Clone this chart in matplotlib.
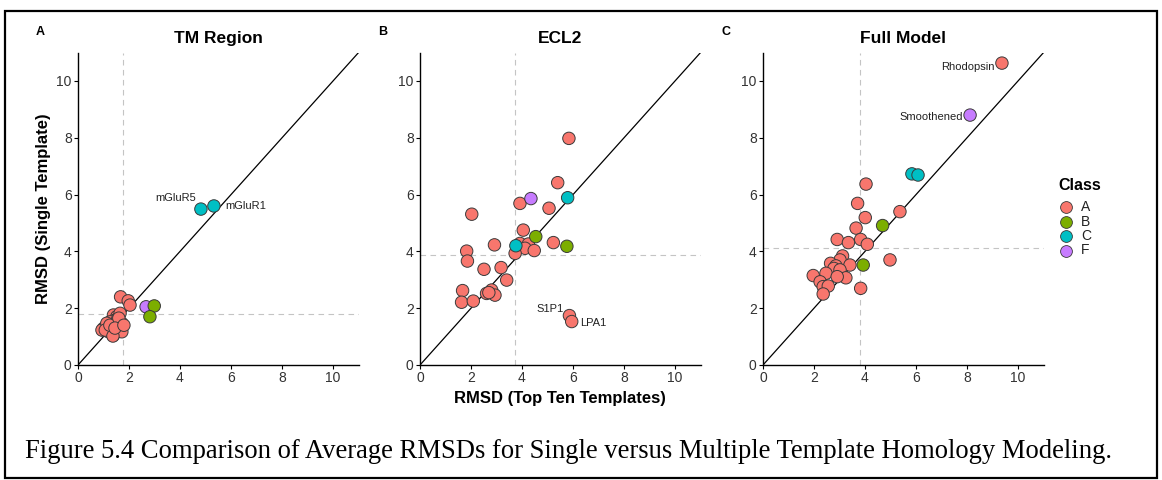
import matplotlib
matplotlib.use("Agg")
import matplotlib.pyplot as plt
from matplotlib.patches import Rectangle
from matplotlib.lines import Line2D

plt.rcParams['font.family'] = ['Liberation Sans', 'DejaVu Sans']

class_colors = {"A": "#F8766D", "B": "#7CAE00", "C": "#00BFC4", "F": "#C77CFF"}
class_order = ["A", "B", "C", "F"]

# Panel A: TM region
tm_x = [1.39, 1.52, 1.45, 1.26, 1.13, 1.00, 0.94, 1.20, 1.39, 1.58, 1.72, 1.72, 1.52, 1.32,
        1.13, 1.07, 1.65, 1.67, 1.97, 2.04, 1.37, 1.55, 1.25, 1.60, 1.45, 1.80,
        2.67, 2.99, 2.82, 4.82, 5.33]
tm_y = [1.76, 1.70, 1.58, 1.52, 1.35, 1.29, 1.23, 1.17, 1.05, 1.29, 1.47, 1.17, 1.47, 1.35,
        1.47, 1.23, 1.82, 2.40, 2.26, 2.11, 1.02, 1.60, 1.40, 1.65, 1.30, 1.40,
        2.05, 2.08, 1.70, 5.49, 5.60]
tm_cls = ["A"] * 26 + ["F", "B", "B", "C", "C"]
tm_names = {29: "mGluR5", 30: "mGluR1"}
tm_vline, tm_hline = 1.76, 1.80

# Panel B: ECL2
ecl_x = [5.84, 5.40, 3.92, 5.06, 2.03, 4.05, 2.92, 5.23, 3.92, 4.25, 4.12, 4.48, 3.73, 1.83,
         1.86, 2.51, 3.18, 3.40, 1.67, 1.63, 2.09, 2.61, 2.81, 2.94, 2.70, 5.86, 5.95,
         4.35, 5.79, 3.76, 4.54, 5.76]
ecl_y = [7.98, 6.42, 5.69, 5.52, 5.31, 4.75, 4.23, 4.31, 4.28, 4.26, 4.11, 4.03, 3.93, 4.01,
         3.66, 3.37, 3.43, 2.99, 2.62, 2.21, 2.25, 2.52, 2.64, 2.46, 2.55, 1.74, 1.53,
         5.86, 5.89, 4.20, 4.52, 4.18]
ecl_cls = ["A"] * 27 + ["F", "C", "C", "B", "B"]
ecl_names = {25: "S1P1", 26: "LPA1"}
ecl_vline, ecl_hline = 3.73, 3.86

# Panel C: full model
full_x = [4.04, 3.71, 4.01, 3.65, 5.37, 2.91, 3.35, 3.83, 4.09, 3.12, 3.02, 2.65, 2.86, 3.41,
          2.78, 3.02, 2.47, 1.97, 3.25, 2.91, 2.24, 2.36, 2.56, 2.36, 3.83, 4.98, 9.37,
          4.69, 3.93, 5.84, 6.08, 8.12]
full_y = [6.37, 5.69, 5.19, 4.82, 5.40, 4.42, 4.31, 4.42, 4.25, 3.84, 3.70, 3.58, 3.49, 3.52,
          3.40, 3.35, 3.23, 3.15, 3.07, 3.11, 2.93, 2.76, 2.78, 2.50, 2.70, 3.70, 10.63,
          4.91, 3.52, 6.73, 6.69, 8.80]
full_cls = ["A"] * 27 + ["B", "B", "C", "C", "F"]
full_names = {26: "Rhodopsin", 31: "Smoothened"}
full_vline, full_hline = 3.80, 4.13

panel_titles = ["TM Region", "ECL2", "Full Model"]
panel_letters = ["A", "B", "C"]
ticks = [0, 2, 4, 6, 8, 10]

W, H = 1162, 480
fig = plt.figure(figsize=(W / 100, H / 100), dpi=100)

# outer frame around figure and caption
fig.patches.append(Rectangle((5 / W, 1 - 478 / H), 1152 / W, 467 / H, transform=fig.transFigure,
                             fill=False, edgecolor="black", linewidth=1.6))

ax_left_px = [78, 420, 763]
ax_w_px = 280.5
ax_bottom = (H - 365) / H
ax_height = 312.4 / H

panels = [
    (tm_x, tm_y, tm_cls, tm_names, tm_vline, tm_hline,
     {29: ((-3.5, 8), "right"), 30: ((8, 0), "left")}),
    (ecl_x, ecl_y, ecl_cls, ecl_names, ecl_vline, ecl_hline,
     {25: ((-4, 5), "right"), 26: ((6, -1), "left")}),
    (full_x, full_y, full_cls, full_names, full_vline, full_hline,
     {26: ((-5, -3), "right"), 31: ((-5, -1.5), "right")}),
]

tick_color = "#333333"
for i, (xs, ys, cls, names, vl, hl, offs) in enumerate(panels):
    ax = fig.add_axes([ax_left_px[i] / W, ax_bottom, ax_w_px / W, ax_height])
    ax.set_xlim(0, 11)
    ax.set_ylim(0, 11)
    for s in ["top", "right"]:
        ax.spines[s].set_visible(False)
    for s in ["left", "bottom"]:
        ax.spines[s].set_linewidth(1.0)
    ax.set_xticks(ticks)
    ax.set_yticks(ticks)
    ax.tick_params(direction="out", length=3, width=0.8, labelsize=10,
                   labelcolor=tick_color, pad=1.5)
    ax.axvline(vl, color="#c4c4c4", lw=0.8, ls=(0, (5, 4)), zorder=1)
    ax.axhline(hl, color="#c4c4c4", lw=0.8, ls=(0, (5, 4)), zorder=1)
    ax.plot([0, 11], [0, 11], color="black", lw=0.9, zorder=2)
    ax.scatter(xs, ys, c=[class_colors[c] for c in cls], s=80,
               edgecolors="#3a3a3a", linewidths=0.7, zorder=3, clip_on=False)
    for idx, name in names.items():
        (dx, dy), ha = offs[idx]
        ax.annotate(name, (xs[idx], ys[idx]), xytext=(dx, dy), textcoords="offset points",
                    ha=ha, va="center", fontsize=8, color="#222222")
    ax.set_title(panel_titles[i], fontsize=12.5, fontweight="bold", pad=7)
    fig.text((ax_left_px[i] - 42) / W, 1 - 32 / H, panel_letters[i],
             fontsize=9, fontweight="bold", ha="left", va="center")
    if i == 0:
        ax.set_ylabel("RMSD (Single Template)", fontsize=12, fontweight="bold", labelpad=4)
    if i == 1:
        ax.set_xlabel("RMSD (Top Ten Templates)", fontsize=12, fontweight="bold", labelpad=4)

# class legend
fig.text(1058 / W, 1 - 186 / H, "Class", fontsize=11.5, fontweight="bold", ha="left", va="center")
for k, c in enumerate(class_order):
    yy = 1 - (207 + k * 14.5) / H
    fig.add_artist(Line2D([1066 / W], [yy], marker="o", markersize=8.5, linestyle="none",
                          markerfacecolor=class_colors[c], markeredgecolor="#3a3a3a",
                          markeredgewidth=0.6, transform=fig.transFigure))
    fig.text(1081 / W, yy, c, fontsize=10, ha="left", va="center", color="#222222")

fig.text(25 / W, 1 - 452 / H,
         "Figure 5.4 Comparison of Average RMSDs for Single versus Multiple Template Homology Modeling.",
         family="Liberation Serif", fontsize=19.2, ha="left", va="center")

fig.savefig("out.png", dpi=100)
